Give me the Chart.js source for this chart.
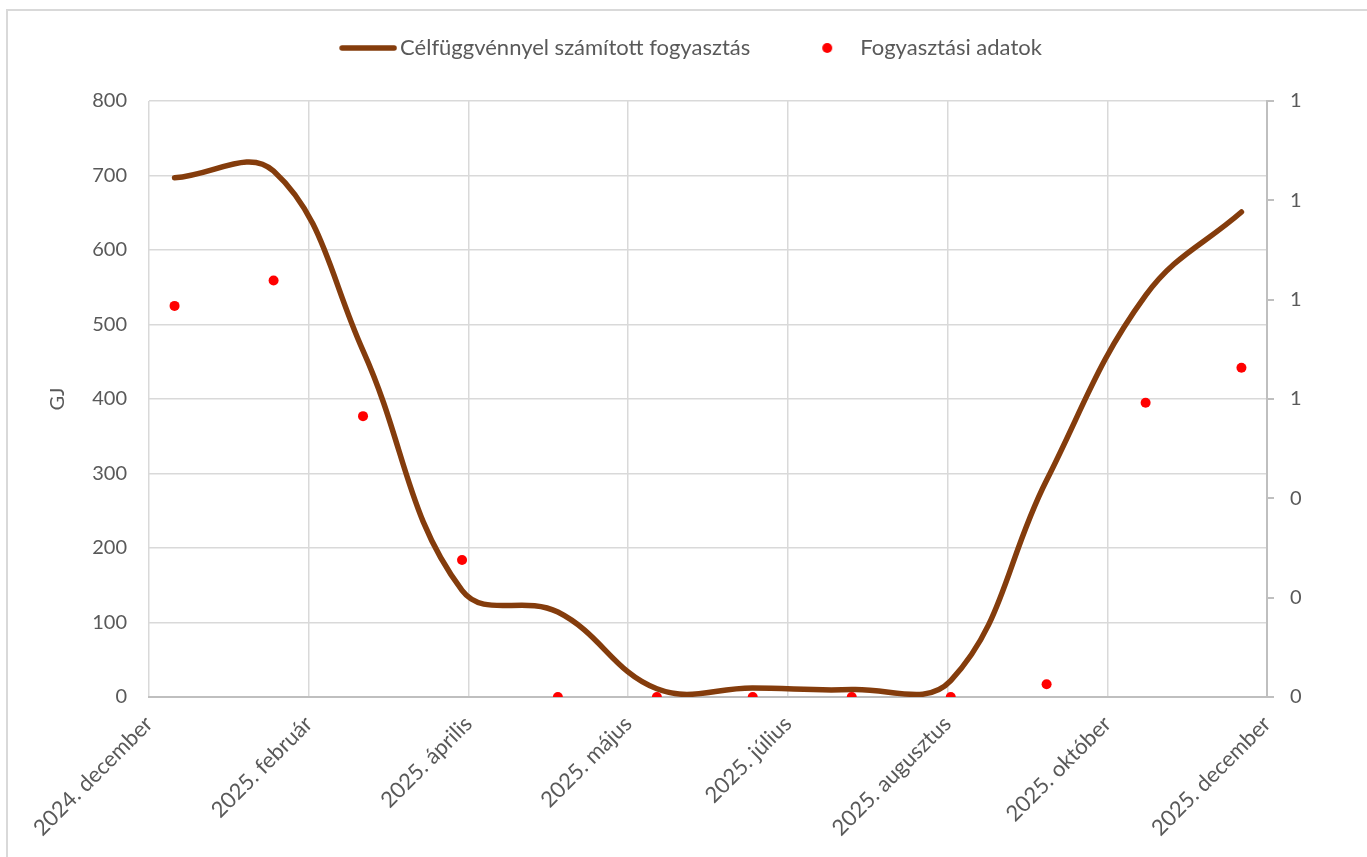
<!DOCTYPE html>
<html>
<head>
<meta charset="utf-8">
<script src="https://cdn.jsdelivr.net/npm/chart.js@4.4.1/dist/chart.umd.min.js"></script>
<style>
    html, body { margin: 0; padding: 0; background: #fff; }
    #wrap { position: relative; width: 1367px; height: 857px; }
    #frame { position: absolute; left: 6px; top: 9px; right: -10px; bottom: -10px; border: 2px solid #d9d9d9; }
    canvas { position: absolute; left: 0; top: 0; }
</style>
</head>
<body>
<div id="wrap">
    <div id="frame"></div>
    <canvas id="chart" width="1367" height="857"></canvas>
</div>
<script>
// Monthly readings (first day of each month)
const dates = ["2025-01-01", "2025-02-01", "2025-03-01", "2025-04-01", "2025-05-01", "2025-06-01",
               "2025-07-01", "2025-08-01", "2025-09-01", "2025-10-01", "2025-11-01", "2025-12-01"];
const fittedGJ = [697, 706, 465, 143, 114, 11, 12, 10, 22, 291, 539, 651];
const measuredGJ = [525, 559, 377, 184, 0, 0, 0, 0, 0, 17, 395, 442];

const monthNames = ["január", "február", "március", "április", "május", "június",
                    "július", "augusztus", "szeptember", "október", "november", "december"];

// date axis: starts 2024-12-24, major unit 50 days
const axisStart = "2024-12-24";
const axisStep = 50;
const axisSteps = 7;

const lineColor = "#843C0C";
const dotColor = "#FF0000";

const DAY = 86400000;
function toDay(s) {
    let p = s.split("-");
    return Date.UTC(+p[0], +p[1] - 1, +p[2]) / DAY;
}
function dayLabel(d) {
    let dt = new Date(d * DAY);
    return dt.getUTCFullYear() + ". " + monthNames[dt.getUTCMonth()];
}

let xMin = toDay(axisStart);
let xMax = xMin + axisStep * axisSteps;

let linePoints = dates.map((d, i) => ({ x: toDay(d), y: fittedGJ[i] }));
let dotPoints = dates.map((d, i) => ({ x: toDay(d), y: measuredGJ[i] }));

// legend symbols (drawn as small images so the spacing looks like Excel)
function legendIcon(kind) {
    let c = document.createElement("canvas");
    c.width = 80;
    c.height = 12;
    let g = c.getContext("2d");
    if (kind === "line") {
        g.strokeStyle = lineColor;
        g.lineWidth = 5.5;
        g.lineCap = "round";
        g.beginPath();
        g.moveTo(25, 6);
        g.lineTo(77, 6);
        g.stroke();
    } else {
        g.fillStyle = dotColor;
        g.beginPath();
        g.arc(50, 6, 5, 0, Math.PI * 2);
        g.fill();
    }
    return c;
}
let icons = [legendIcon("line"), legendIcon("dot")];

Chart.defaults.font.family = "Lato, 'Noto Sans', sans-serif";
Chart.defaults.font.size = 20;
Chart.defaults.color = "#595959";

let ctx = document.getElementById("chart").getContext("2d");
new Chart(ctx, {
    type: "line",
    data: {
        datasets: [{
            label: "Célfüggvénnyel számított fogyasztás",
            data: linePoints,
            borderColor: lineColor,
            borderWidth: 5.5,
            borderCapStyle: "round",
            tension: 0.4,
            capBezierPoints: false,
            pointRadius: 0,
            pointHoverRadius: 0,
            order: 2
        }, {
            label: "Fogyasztási adatok",
            data: dotPoints,
            showLine: false,
            pointRadius: 5,
            pointStyle: "circle",
            pointBackgroundColor: dotColor,
            pointBorderColor: dotColor,
            pointBorderWidth: 0,
            order: 1
        }]
    },
    options: {
        responsive: false,
        animation: false,
        layout: { padding: { left: 0, right: 0, top: 2, bottom: 0 } },
        plugins: {
            tooltip: { enabled: false },
            legend: {
                position: "top",
                labels: {
                    usePointStyle: true,
                    pointStyleWidth: 64,
                    boxHeight: 10,
                    padding: 35,
                    color: "#595959",
                    font: { size: 22 },
                    sort: (a, b) => a.datasetIndex - b.datasetIndex,
                    generateLabels: function (chart) {
                        let items = Chart.defaults.plugins.legend.labels.generateLabels(chart);
                        items.forEach(it => { it.pointStyle = icons[it.datasetIndex]; });
                        return items;
                    }
                }
            },
            // empty block below the legend, keeps the plot top where Excel has it
            subtitle: {
                display: true,
                text: "",
                weight: 500,
                font: { size: 10, lineHeight: 1 },
                padding: { top: 0, bottom: 22 }
            }
        },
        scales: {
            x: {
                type: "linear",
                min: xMin,
                max: xMax,
                afterBuildTicks: function (scale) {
                    let t = [];
                    for (let i = 0; i <= axisSteps; i++) t.push({ value: xMin + i * axisStep });
                    scale.ticks = t;
                },
                afterFit: function (scale) { scale.height = 160; },
                grid: { color: "#d9d9d9", lineWidth: 1.5, drawTicks: false },
                border: { color: "#bfbfbf", width: 2 },
                ticks: {
                    minRotation: 45,
                    maxRotation: 45,
                    padding: 14,
                    autoSkip: false,
                    font: { size: 22 },
                    callback: v => dayLabel(v)
                }
            },
            y: {
                position: "left",
                min: 0,
                max: 800,
                afterFit: function (scale) { scale.width = 149; },
                grid: { color: "#d9d9d9", lineWidth: 1.5, drawTicks: false },
                border: { display: false },
                ticks: { stepSize: 100, padding: 22 },
                title: { display: true, text: "GJ", font: { size: 20 }, padding: { top: 46, bottom: 0 } }
            },
            y1: {
                position: "right",
                min: 0,
                max: 1.2,
                afterFit: function (scale) { scale.width = 100; },
                grid: { drawOnChartArea: false, color: "#bfbfbf", tickLength: 7, lineWidth: 2 },
                border: { color: "#bfbfbf", width: 2 },
                ticks: { stepSize: 0.2, padding: 16, callback: v => Math.round(v) }
            }
        }
    }
});
</script>
</body>
</html>
